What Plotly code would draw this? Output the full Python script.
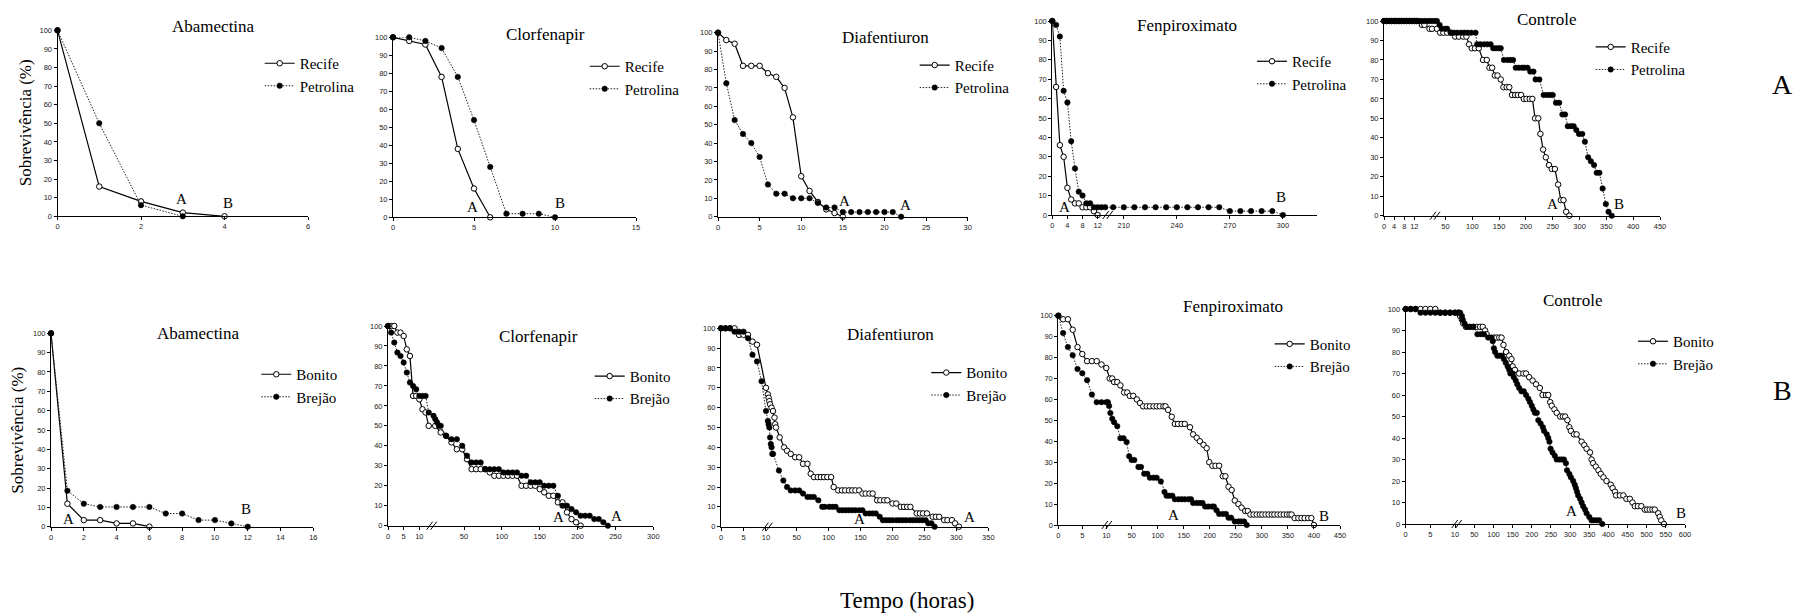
import numpy as np
import plotly.graph_objects as go

# ===================== DATA (time in hours, survival in %) =====================
# ---- Row A: Recife x Petrolina ----
abam_rec_h = [0, 1, 2, 3, 4]
abam_rec_s = [100, 16, 8, 2, 0]
abam_pet_h = [0, 1, 2, 3]
abam_pet_s = [100, 50, 6, 0]

clor_rec_h = [0, 1, 2, 3, 4, 5, 6]
clor_rec_s = [100, 98, 96, 78, 38, 16, 0]
clor_pet_h = [0, 1, 2, 3, 4, 5, 6, 7, 8, 9, 10]
clor_pet_s = [100, 100, 98, 94, 78, 54, 28, 2, 2, 2, 0]

diaf_rec_h = [0, 1, 2, 3, 4, 5, 6, 7, 8, 9, 10, 11, 12, 13, 14, 15]
diaf_rec_s = [100, 96, 94, 82, 82, 82, 78, 76, 70, 54, 22, 14, 8, 4, 2, 0]
diaf_pet_h = [0, 1, 2, 3, 4, 5, 6, 7, 8, 9, 10, 11, 12, 13, 14, 15, 16, 17, 18, 19, 20, 21, 22]
diaf_pet_s = [100, 72.5, 52.5, 45, 40, 32.5, 17.5, 12.5, 12.5, 10, 10, 10, 7.5, 5, 5,
              2.5, 2.5, 2.5, 2.5, 2.5, 2.5, 2.5, 0]

fenp_rec_h = [0, 1, 2, 3, 4, 5, 6, 7, 8, 9, 10, 11, 12]
fenp_rec_s = [100, 66, 36, 30, 14, 8, 6, 6, 4, 4, 4, 2, 0]
fenp_pet_h = [0, 1, 2, 3, 4, 5, 6, 7, 8, 9, 10, 11, 12, 13, 14,
              204, 210, 216, 222, 228, 234, 240, 246, 252, 258, 264, 270, 276, 282, 288, 294, 300]
fenp_pet_s = [100, 98, 92, 64, 58, 38, 24, 12, 10, 6, 6, 4, 4, 4, 4,
              4, 4, 4, 4, 4, 4, 4, 4, 4, 4, 4, 2, 2, 2, 2, 2, 0]

ctrl_rec_h = [0, 1, 2, 3, 4, 5, 6, 7, 8, 9, 10, 11, 12, 13, 15, 16, 18, 19,
              34, 40, 46, 53, 60, 68, 75, 83, 89, 94, 99, 105, 112, 120, 127, 132, 137, 142, 147,
              153, 158, 164, 169, 174, 180, 185, 191, 196, 201, 207, 212, 217, 223, 227, 232, 237,
              243, 248, 254, 260, 265, 270, 275, 281]
ctrl_rec_s = [100, 100, 100, 100, 100, 100, 100, 100, 100, 100, 100, 100, 100, 100, 98, 98, 96, 96,
              96, 94, 94, 94, 94, 92, 92, 92, 92, 88, 86, 86, 86, 80, 80, 76, 76, 72, 72,
              70, 66, 66, 66, 62, 62, 62, 62, 60, 60, 60, 60, 50, 50, 42, 34, 30,
              26, 24, 24, 16, 8, 8, 2, 0]
ctrl_pet_h = [0, 1, 2, 3, 4, 5, 6, 7, 8, 9, 10, 11, 12, 13, 14, 15, 16, 17, 18, 19, 20,
              34, 39, 43, 49, 53, 60, 66, 72, 79, 85, 91, 98, 106, 109, 115, 122, 128, 134,
              139, 144, 149, 153, 159, 166, 171, 176, 181, 187, 193, 197, 203, 208, 214, 218,
              225, 233, 239, 245, 250, 256, 262, 268, 273, 278, 284, 289, 294, 299, 305, 310,
              316, 321, 327, 332, 337, 343, 349, 354, 360]
ctrl_pet_s = [100, 100, 100, 100, 100, 100, 100, 100, 100, 100, 100, 100, 100, 100, 100, 100,
              100, 100, 100, 100, 100,
              100, 98, 96, 96, 96, 94, 94, 94, 94, 94, 94, 94, 94, 88, 88, 88, 88, 88,
              86, 86, 86, 86, 80, 80, 80, 80, 76, 76, 76, 76, 76, 74, 74, 70,
              70, 62, 62, 62, 62, 58, 58, 52, 52, 46, 46, 46, 44, 42, 42, 38,
              30, 28, 26, 22, 22, 14, 6, 2, 0]

# ---- Row B: Bonito x Brejão ----
abam_bon_h = [0, 1, 2, 3, 4, 5, 6]
abam_bon_s = [100, 11.9, 3.4, 3.4, 1.7, 1.7, 0]
abam_bre_h = [0, 1, 2, 3, 4, 5, 6, 7, 8, 9, 10, 11, 12]
abam_bre_s = [100, 18.6, 11.9, 10.2, 10.2, 10.2, 10.2, 6.8, 6.8, 3.4, 3.4, 1.7, 0]

clor_bon_h = [0, 1, 2, 3, 4, 5, 6, 7, 8, 9, 10, 11, 12, 13,
              18, 24, 30, 36, 42, 48, 54, 60, 66, 72, 78, 84, 90, 96, 102, 108, 114, 120,
              126, 132, 138, 144, 150, 156, 162, 168, 174, 180, 186, 192, 198, 204]
clor_bon_s = [100, 100, 100, 96.7, 96.7, 95, 88.3, 85, 65, 65, 63.3, 58.3, 56.7, 50,
              50, 46.7, 45, 41.7, 38.3, 38.3, 33.3, 28.3, 28.3, 28.3, 28.3, 26.7, 25, 25, 25, 25, 25, 25,
              20, 20, 20, 20, 18.3, 16.7, 15, 15, 11.7, 11.7, 6.7, 3.3, 1.7, 0]
clor_bre_h = [0, 1, 2, 3, 4, 5, 6, 7, 8, 9, 10, 11, 12, 13,
              16, 18, 20, 22, 24, 30, 36, 42, 48, 54, 60, 66, 72, 78, 84, 90, 96, 102, 108, 114,
              120, 126, 132, 138, 144, 150, 156, 162, 168, 174, 180, 186, 192, 198, 204, 210,
              216, 222, 228, 234, 240]
clor_bre_s = [100, 96.7, 91.7, 86.7, 85, 81.7, 76.7, 71.7, 70, 68.3, 65, 65, 65, 56.7,
              55, 53.3, 51.7, 50, 50, 45, 43.3, 43.3, 40, 35, 31.7, 31.7, 31.7, 28.3, 28.3, 28.3,
              28.3, 26.7, 26.7, 26.7, 26.7, 25, 25, 21.7, 21.7, 21.7, 20, 20, 20, 15, 10, 10,
              8.3, 6.7, 5, 5, 5, 3.3, 3.3, 1.7, 0]

diaf_bon_h = [0, 1, 2, 3, 4, 5, 6, 7, 8, 10,
              11, 12, 13, 14, 16, 18, 20, 21, 22, 27, 33, 37, 42, 48,
              54, 60, 67, 72, 77, 83, 88, 93, 98, 104, 108, 115, 121, 126, 132, 137, 142, 148,
              153, 158, 164, 169, 176, 181, 187, 192, 200, 206, 213, 218, 223, 228, 238, 243,
              248, 254, 263, 268, 273, 281, 286, 293, 298, 304]
diaf_bon_s = [100, 100, 100, 100, 96.7, 96.7, 96.7, 93.3, 91.7, 70,
              66.7, 65, 63.3, 61.7, 60, 58.3, 55, 51.7, 50, 45, 40, 38.3, 36.7, 35,
              35, 31.7, 31.7, 26.7, 25, 25, 25, 25, 25, 25, 20, 18.3, 18.3, 18.3, 18.3, 18.3, 18.3, 18.3,
              16.7, 16.7, 16.7, 16.7, 13.3, 13.3, 13.3, 13.3, 11.7, 11.7, 10, 10, 10, 10, 6.7, 6.7,
              6.7, 6.7, 5, 5, 5, 3.3, 3.3, 3.3, 1.7, 0]
diaf_bre_h = [0, 1, 2, 3, 4, 5, 6, 7, 8, 9, 10,
              11, 12, 13, 14, 15, 16, 17, 18, 26, 32, 37, 42, 48,
              54, 60, 67, 72, 77, 84, 90, 94, 101, 106, 111, 117, 122, 127, 132, 137, 142, 148,
              153, 158, 164, 169, 174, 180, 185, 190, 195, 200, 206, 211, 216, 221, 227, 232,
              237, 242, 247, 252, 256, 261, 266]
diaf_bre_s = [100, 100, 100, 98.3, 98.3, 98.3, 95, 86.7, 83.3, 73.3, 58.3,
              53.3, 51.7, 50, 45, 41.7, 40, 36.7, 36.7, 28.3, 23.3, 20, 18.3, 18.3,
              18.3, 16.7, 15, 15, 15, 13.3, 10, 10, 10, 10, 10, 8.3, 8.3, 8.3, 8.3, 8.3, 8.3, 8.3,
              8.3, 6.7, 6.7, 6.7, 6.7, 5, 3.3, 3.3, 3.3, 3.3, 3.3, 3.3, 3.3, 3.3, 3.3, 3.3,
              3.3, 3.3, 3.3, 3.3, 1.7, 1.7, 0]

fenp_bon_h = [0, 1, 2, 3, 4, 5, 6, 7, 8, 9, 10,
              15, 19, 22, 27, 32, 38, 43, 47,
              53, 60, 66, 72, 79, 85, 92, 98, 104, 111, 115, 120, 127, 133, 139, 146, 152,
              162, 168, 175, 181, 188, 194, 199, 205, 211, 218, 225, 230, 236, 242, 248, 255,
              261, 268, 273, 278, 284, 290, 296, 301, 307, 313, 319, 324, 330, 336, 342, 348,
              353, 357, 363, 370, 376, 382, 389, 395, 400]
fenp_bon_s = [100, 98.3, 98.3, 93.3, 85, 81.7, 78.3, 78.3, 78.3, 76.7, 75,
              70, 70, 68.3, 68.3, 66.7, 63.3, 63.3, 61.7,
              61.7, 60, 58.3, 56.7, 56.7, 56.7, 56.7, 56.7, 56.7, 56.7, 56.7, 55, 51.7, 48.3, 48.3, 48.3, 48.3,
              46.7, 43.3, 41.7, 40, 38.3, 36.7, 30, 28.3, 28.3, 28.3, 23.3, 23.3, 18.3, 16.7, 11.7, 10,
              8.3, 6.7, 6.7, 5, 5, 5, 5, 5, 5, 5, 5, 5, 5, 5, 5, 5,
              5, 5, 3.3, 3.3, 3.3, 3.3, 3.3, 3.3, 0]
fenp_bre_h = [0, 1, 2, 3, 4, 5, 6, 7, 8, 9, 10,
              12, 14, 16, 19, 22, 27, 32, 37, 42, 46, 50,
              55, 63, 68, 74, 80, 85, 92, 98, 106, 113, 117, 122, 128, 133, 140, 146, 152, 159,
              164, 168, 175, 181, 186, 191, 197, 204, 208, 213, 218, 225, 231, 236, 241, 248,
              255, 260, 266, 271]
fenp_bre_s = [100, 91.7, 85, 81.1, 74.5, 72.5, 69.2, 62.3, 58.7, 58.7, 58.7,
              58.7, 56.9, 53.5, 50.8, 49.1, 47.2, 41.5, 41.5, 39.6, 32.9, 31.1,
              31.1, 27.7, 27.7, 24.5, 24.5, 22.6, 22.6, 22.6, 20.8, 15.8, 14, 14, 14, 12.3, 12.3, 12.3, 12.3, 12.3,
              12.3, 10.5, 10.5, 10.5, 10.5, 8.8, 8.8, 8.8, 8.8, 7, 5.3, 5.3, 5.3, 3.5, 3.5, 1.7,
              1.7, 1.7, 1.7, 0]

ctrl_bon_h = [0, 1, 2, 3, 4, 5, 6, 7, 8, 9, 10,
              14, 18, 22, 25, 31, 40, 48,
              56, 65, 72, 78, 82, 102, 108, 115, 121, 126, 133, 141, 147, 150, 156, 167, 178, 185,
              193, 202, 211, 221, 228, 237, 243, 248, 252, 259, 265, 274, 281, 287, 293, 298, 302,
              310, 317, 330, 337, 343, 352, 356, 360, 367, 374, 380, 387, 395, 406, 411, 417, 420,
              430, 439, 447, 456, 463, 469, 477, 486, 495, 501, 508, 515, 521, 530, 534, 538, 545]
ctrl_bon_s = [100, 100, 100, 100, 100, 100, 100, 98.3, 98.3, 98.3, 98.3,
              98.3, 96.7, 95, 93.3, 91.7, 91.7, 91.7,
              91.7, 91.7, 91.7, 90, 88.3, 86.7, 86.7, 86.7, 86.7, 83.3, 80, 78.3, 76.7, 73.3, 71.7, 70, 70, 70,
              68.3, 66.7, 65, 63.3, 60, 60, 60, 56.7, 55, 53.3, 51.7, 50, 50, 50, 48.3, 45, 43.3,
              41.7, 41.7, 38.3, 36.7, 35, 33.3, 30, 28.3, 26.7, 25, 23.3, 21.7, 20, 18.3, 16.7, 15,
              13.3, 13.3, 13.3, 11.7, 11.7, 10, 8.3, 8.3, 8.3, 6.7, 6.7, 6.7, 6.7, 6.7, 5, 3.3, 1.7, 0]
ctrl_bre_h = [0, 1, 2, 3, 4, 5, 6, 7, 8, 9, 10,
              14, 18, 22, 24, 28, 33, 40, 48,
              58, 67, 75, 86, 94, 98, 101, 104, 110, 116, 122, 127, 132, 137, 141, 144, 150, 153,
              158, 162, 167, 173, 179, 185, 191, 195, 200, 204, 208, 213, 217, 223, 229, 232,
              239, 243, 246, 249, 254, 260, 265, 272, 278, 284, 289, 292, 298, 302, 308, 312,
              315, 318, 321, 326, 330, 334, 339, 343, 350, 356, 362, 369, 376, 384]
ctrl_bre_s = [100, 100, 100, 98.3, 98.3, 98.3, 98.3, 98.3, 98.3, 98.3, 98.3,
              98.3, 98.3, 96.7, 95, 93.3, 91.7, 91.7, 91.7,
              88.3, 88.3, 88.3, 86.7, 86.7, 85, 81.7, 80, 78.3, 78.3, 78.3, 76.7, 75, 73.3, 71.7, 70, 70, 68.3,
              66.7, 65, 63.3, 61.7, 61.7, 60, 58.3, 56.7, 55, 53.3, 51.7, 51.7, 48.3, 46.7, 45, 43.3,
              41.7, 40, 38.3, 35, 33.3, 31.7, 30, 30, 30, 30, 28.3, 25, 23.3, 21.7, 20, 18.3,
              16.7, 15, 13.3, 11.7, 10, 8.3, 6.7, 5, 3.3, 1.7, 1.7, 1.7, 1.7, 0]

# tick labels (hours)
ticks_abam_a = [0, 2, 4, 6]
ticks_clor_a = [0, 5, 10, 15]
ticks_diaf_a = [0, 5, 10, 15, 20, 25, 30]
ticks_fenp_a = [0, 4, 8, 12, 210, 240, 270, 300]
ticks_ctrl_a = [0, 4, 8, 12, 50, 100, 150, 200, 250, 300, 350, 400, 450]
ticks_abam_b = [0, 2, 4, 6, 8, 10, 12, 14, 16]
ticks_clor_b = [0, 5, 10, 50, 100, 150, 200, 250, 300]
ticks_diaf_b = [0, 5, 10, 50, 100, 150, 200, 250, 300, 350]
ticks_fenp_b = [0, 5, 10, 50, 100, 150, 200, 250, 300, 350, 400, 450]
ticks_ctrl_b = [0, 5, 10, 50, 100, 150, 200, 250, 300, 350, 400, 450, 500, 550, 600]
y_ticks = [0, 10, 20, 30, 40, 50, 60, 70, 80, 90, 100]

# ===================== LAYOUT =====================
W, H = 1800, 616
SERIF = "Liberation Serif"
SANS = "Liberation Sans"

# broken time axes: (hours anchors, axis-unit anchors)
panels = [
    dict(title="Abamectina", tpos=(213, 26), box=(57.5, 308, 30.3, 216.3), xmax=6, ticks=ticks_abam_a,
         anchors=None, brk=None,
         series=[("Recife", abam_rec_h, abam_rec_s, "open"), ("Petrolina", abam_pet_h, abam_pet_s, "filled")],
         leg=(301.7, 74.5), marks=[("A", 2.98, 9.3), ("B", 4.09, 7.0)]),
    dict(title="Clorfenapir", tpos=(545, 35), box=(393, 636, 37.3, 217.3), xmax=15, ticks=ticks_clor_a,
         anchors=None, brk=None,
         series=[("Recife", clor_rec_h, clor_rec_s, "open"), ("Petrolina", clor_pet_h, clor_pet_s, "filled")],
         leg=(626.7, 77.5), marks=[("A", 4.9, 5.9), ("B", 10.3, 8.1)]),
    dict(title="Diafentiuron", tpos=(885, 38), box=(718, 967.7, 32.7, 216.7), xmax=30, ticks=ticks_diaf_a,
         anchors=None, brk=None,
         series=[("Recife", diaf_rec_h, diaf_rec_s, "open"), ("Petrolina", diaf_pet_h, diaf_pet_s, "filled")],
         leg=(956.7, 76.3), marks=[("A", 15.2, 8.5), ("A", 22.5, 6.3)]),
    dict(title="Fenpiroximato", tpos=(1186.7, 25), box=(1052.3, 1317, 21, 215), xmax=70.03, ticks=ticks_fenp_a,
         anchors=([0, 14.66, 201, 320], [0, 14.66, 14.7, 70.35]), brk=14.66,
         series=[("Recife", fenp_rec_h, fenp_rec_s, "open"), ("Petrolina", fenp_pet_h, fenp_pet_s, "filled")],
         leg=(1294, 72.5), marks=[("A", 3.35, 4.3), ("B", 298.9, 9.1)]),
    dict(title="Controle", tpos=(1546.7, 20), box=(1384, 1660, 21, 215.7), xmax=109.2, ticks=ticks_ctrl_a,
         anchors=([0, 20.18, 31, 450], [0, 20.18, 20.3, 109.2]), brk=20.18,
         series=[("Recife", ctrl_rec_h, ctrl_rec_s, "open"), ("Petrolina", ctrl_pet_h, ctrl_pet_s, "filled")],
         leg=(1632.7, 58.2), marks=[("A", 249.8, 5.8), ("B", 374, 5.8)]),
    dict(title="Abamectina", tpos=(198.3, 333.3), box=(51, 313.3, 333.3, 526.7), xmax=16, ticks=ticks_abam_b,
         anchors=None, brk=None,
         series=[("Bonito", abam_bon_h, abam_bon_s, "open"), ("Brejão", abam_bre_h, abam_bre_s, "filled")],
         leg=(298.3, 385.5), marks=[("A", 1.05, 3.8), ("B", 11.9, 9)]),
    dict(title="Clorfenapir", tpos=(538.3, 336.7), box=(388, 653.3, 326, 525.7), xmax=84.68, ticks=ticks_clor_b,
         anchors=([0, 13.94, 50, 300], [0, 13.94, 24.26, 84.68]), brk=13.94,
         series=[("Bonito", clor_bon_h, clor_bon_s, "open"), ("Brejão", clor_bre_h, clor_bre_s, "filled")],
         leg=(631.7, 387.3), marks=[("A", 174.6, 4.2), ("A", 251.4, 4.8)]),
    dict(title="Diafentiuron", tpos=(890, 335), box=(721, 988.3, 328.3, 526.7), xmax=59.41, ticks=ticks_diaf_b,
         anchors=([0, 10.3, 50, 350], [0, 10.3, 16.81, 59.41]), brk=10.3,
         series=[("Bonito", diaf_bon_h, diaf_bon_s, "open"), ("Brejão", diaf_bre_h, diaf_bre_s, "filled")],
         leg=(968.3, 383.8), marks=[("A", 149, 3.7), ("A", 320, 4.7)]),
    dict(title="Fenpiroximato", tpos=(1233.3, 306.7), box=(1058.3, 1340, 315.7, 525), xmax=58.68, ticks=ticks_fenp_b,
         anchors=([0, 10.07, 50, 450], [0, 10.07, 15.28, 58.68]), brk=10.1,
         series=[("Bonito", fenp_bon_h, fenp_bon_s, "open"), ("Brejão", fenp_bre_h, fenp_bre_s, "filled")],
         leg=(1311.7, 355.2), marks=[("A", 130, 4.8), ("B", 419, 4.3)]),
    dict(title="Controle", tpos=(1572.7, 300), box=(1405.7, 1685, 309, 524), xmax=56.62, ticks=ticks_ctrl_b,
         anchors=([0, 10.34, 50, 600], [0, 10.34, 13.92, 56.62]), brk=10.34,
         series=[("Bonito", ctrl_bon_h, ctrl_bon_s, "open"), ("Brejão", ctrl_bre_h, ctrl_bre_s, "filled")],
         leg=(1675, 352.5), marks=[("A", 304, 6.2), ("B", 589, 5)]),
]

STYLES = {
    "open": dict(line=dict(color="black", width=1.2),
                 marker=dict(symbol="circle", size=5.5, color="white", line=dict(color="black", width=1))),
    "filled": dict(line=dict(color="#222", width=1, dash="1.5px,1.5px"),
                   marker=dict(symbol="circle", size=5.5, color="black", line=dict(color="black", width=0.5))),
}

fig = go.Figure()
layout = dict(width=W, height=H, margin=dict(l=0, r=0, t=0, b=0, autoexpand=False),
              paper_bgcolor="white", plot_bgcolor="white", showlegend=True)
annotations = []
shapes = []

for i, p in enumerate(panels, start=1):
    s = "" if i == 1 else str(i)
    if p["anchors"] is None:
        mapx = lambda h: np.asarray(h, dtype=float)
    else:
        ah, ap = p["anchors"]
        mapx = (lambda ah, ap: (lambda h: np.interp(np.asarray(h, dtype=float), ah, ap)))(ah, ap)
    legname = "legend" if i == 1 else f"legend{i}"
    for name, hh, ss, sty in p["series"]:
        st = STYLES[sty]
        fig.add_trace(go.Scatter(x=mapx(hh), y=ss, mode="lines+markers", name=name,
                                 xaxis="x" + s, yaxis="y" + s, legend=legname,
                                 line=st["line"], marker=st["marker"], cliponaxis=False,
                                 hoverinfo="skip"))
    x0, x1, yt, yb = p["box"]
    axfont = dict(family=SANS, size=7.5, color="#222")
    common = dict(showline=True, linecolor="black", linewidth=1, ticks="outside",
                  ticklen=3, tickwidth=1, tickcolor="black", tickfont=axfont,
                  showgrid=False, zeroline=False, fixedrange=True, automargin=False)
    layout["xaxis" + s] = dict(domain=[x0 / W, x1 / W], anchor="y" + s, range=[0, p["xmax"]],
                               tickmode="array", tickvals=list(mapx(p["ticks"])),
                               ticktext=[str(t) for t in p["ticks"]], **common)
    layout["yaxis" + s] = dict(domain=[1 - yb / H, 1 - yt / H], anchor="x" + s, range=[0, 100],
                               tickmode="array", tickvals=y_ticks, **common)
    lx, ly = p["leg"]
    layout[legname] = dict(x=(lx - 42) / W, y=1 - ly / H, xanchor="left", yanchor="middle",
                           bgcolor="rgba(0,0,0,0)", borderwidth=0, itemwidth=30,
                           font=dict(family=SERIF, size=15, color="black"), tracegroupgap=0)
    tx, ty = p["tpos"]
    annotations.append(dict(text=p["title"], x=tx / W, y=1 - ty / H, xref="paper", yref="paper",
                            showarrow=False, xanchor="center", yanchor="middle",
                            font=dict(family=SERIF, size=17, color="black")))
    for txt, mh, my in p["marks"]:
        annotations.append(dict(text=txt, x=float(mapx([mh])[0]), y=my, xref="x" + s, yref="y" + s,
                                showarrow=False, xanchor="center", yanchor="middle",
                                font=dict(family=SERIF, size=15, color="black")))
    if p["brk"] is not None:
        for dx in (-2.0, 2.0):
            shapes.append(dict(type="line", xref="x" + s, yref=f"y{s} domain",
                               xsizemode="pixel", ysizemode="pixel",
                               xanchor=p["brk"], yanchor=0,
                               x0=dx - 3, x1=dx + 3, y0=-4, y1=4,
                               line=dict(color="black", width=1)))

# shared texts
annotations += [
    dict(text="Sobrevivência (%)", x=25 / W, y=1 - 123.3 / H, xref="paper", yref="paper",
         textangle=-90, showarrow=False, xanchor="center", yanchor="middle",
         font=dict(family=SERIF, size=17, color="black")),
    dict(text="Sobrevivência (%)", x=16.7 / W, y=1 - 430 / H, xref="paper", yref="paper",
         textangle=-90, showarrow=False, xanchor="center", yanchor="middle",
         font=dict(family=SERIF, size=17, color="black")),
    dict(text="Tempo (horas)", x=907 / W, y=1 - 600 / H, xref="paper", yref="paper",
         showarrow=False, xanchor="center", yanchor="middle",
         font=dict(family=SERIF, size=23, color="black")),
    dict(text="A", x=1782 / W, y=1 - 84 / H, xref="paper", yref="paper",
         showarrow=False, xanchor="center", yanchor="middle",
         font=dict(family=SERIF, size=28, color="black")),
    dict(text="B", x=1782 / W, y=1 - 390 / H, xref="paper", yref="paper",
         showarrow=False, xanchor="center", yanchor="middle",
         font=dict(family=SERIF, size=28, color="black")),
]
layout["annotations"] = annotations
layout["shapes"] = shapes
fig.update_layout(**layout)
fig.write_html("out.html", config={"displayModeBar": False, "staticPlot": False},
               post_script="document.body.style.margin='0';document.body.style.overflow='hidden';")
